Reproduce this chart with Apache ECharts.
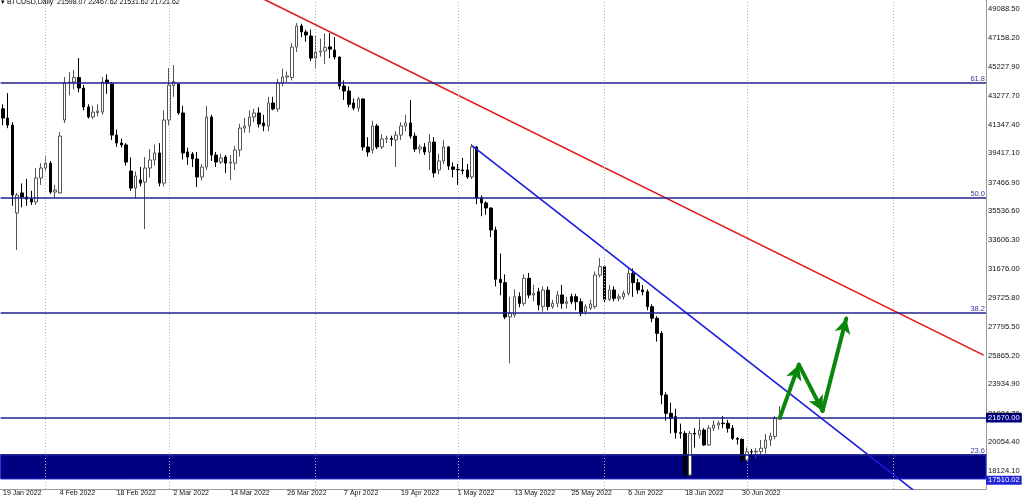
<!DOCTYPE html>
<html><head><meta charset="utf-8">
<script src="https://cdn.jsdelivr.net/npm/echarts@6/dist/echarts.min.js"></script>
<style>html,body{margin:0;padding:0;background:#fff}#c{width:1024px;height:501px}</style>
</head><body><div id="c"></div>
<script>
// ---------- data ----------
const symbolName = 'BTCUSD';
const timeframe = 'Daily';
const firstDate = '2022-01-19';
const missingDates = ['2022-01-22','2022-01-23','2022-01-29','2022-01-30','2022-02-05','2022-02-06'];
const futureBars = 43;
// [open, high, low, close]
const ohlc = [
[42400,42700,41300,41780],[41780,43450,41100,41310],[41310,41500,35900,36620],[35420,36760,32940,36620],
[36760,37400,35800,36490],[36490,37700,35900,36350],[36350,36900,35950,36150],[36150,38430,35950,37760],
[37760,38760,37300,38430],[38430,39200,38200,38760],[38760,38900,36700,36820],[36820,37300,36450,36950],
[36760,40850,36700,40575],[41650,44530,41450,44130],[44130,44870,43300,44200],[44200,45000,43700,44500],
[44500,45800,43500,43790],[43790,44000,42300,42520],[42520,42700,41750,41850],[41850,42600,41700,42180],
[42150,42700,41900,42250],[42180,44530,42000,44200],[44330,44700,43400,44100],[44060,44200,40300,40640],
[40640,41000,39850,40110],[40110,40400,39800,39980],[39980,40100,38600,38830],[38230,39140,36900,37090],
[37090,38200,36420,37900],[37630,38500,37200,37420],[37490,39170,34340,38430],[38430,39700,37800,38970],
[38970,40000,38600,39440],[39440,40100,37200,37420],[37420,42300,37200,41650],[41650,45130,41300,43990],
[43950,45330,43200,44230],[44060,44100,42000,42120],[42120,42600,39000,39440],[39510,39800,38650,39170],
[39370,39500,38500,39040],[39040,39500,37160,37830],[37830,38700,37600,38500],[38500,42600,38300,41850],
[41850,42000,38900,39300],[39300,39500,38500,38830],[38830,39400,38700,39100],[39170,39300,38100,38760],
[38760,39300,37630,38830],[38760,39900,38300,39640],[39640,41400,39200,41110],[41110,41800,40800,41250],
[41250,42300,40800,41850],[41850,42400,41500,42120],[42120,42500,41150,41380],[41450,42000,40900,41250],
[41250,43200,40900,42790],[42790,43200,42300,42390],[42390,44400,42200,44130],[44130,45100,43900,44530],
[44530,44900,44200,44600],[44500,46800,44300,46540],[46540,48150,46200,47950],[47950,48100,47200,47550],
[47550,47700,46900,47350],[47280,47700,45600,45800],[45800,47300,45150,46200],[46200,47100,45900,46270],
[46270,47450,45400,46500],[46550,47480,45800,46400],[46340,47200,45700,45870],[45870,45900,43700,43930],
[43930,44300,43000,43590],[43590,43900,42500,42700],[42790,43100,42300,42450],[42450,43200,42200,43060],
[43060,43100,39600,39840],[39840,40500,39200,39500],[39640,41600,39400,41250],[41250,41400,39700,39840],
[39840,40700,39700,40380],[40380,40600,40100,40420],[40420,40600,39900,40350],[40310,40900,38500,40640],
[40640,41500,40300,41250],[41250,42000,40900,41450],[41450,42990,40400,40570],[40570,40800,39500,39700],
[39700,40000,39400,39840],[39840,40100,39300,39500],[39500,40700,38300,40170],[40170,40500,37800,38100],
[38300,39400,38000,38900],[38900,40300,38700,39840],[39840,39900,38300,38570],[38500,38800,37800,38340],
[38340,38700,37300,38300],[38300,39100,38000,38250],[38300,38700,37700,37830],[37830,40040,37700,39840],
[39840,39900,36000,36420],[36420,36600,35200,36090],[36090,36200,35300,35750],[35750,35800,33800,34280],
[34280,34500,30500,30970],[30970,32700,29900,30750],[30750,31300,28300,28450],[28450,29800,25340,28700],
[28580,30300,28400,29810],[29810,30100,29100,29360],[29360,31300,29200,31040],[31040,31400,29700,29920],
[29920,30600,29500,30030],[30140,30400,28900,29250],[29140,30500,28800,30250],[30250,30500,28900,29140],
[29140,29600,29000,29360],[29360,30200,29100,29920],[29920,30600,29000,29360],[29360,29800,29000,29470],
[29810,30000,29300,29470],[29810,30000,28900,29470],[29470,29700,28500,28690],[28800,29300,28600,29140],
[29030,29600,28900,29320],[29140,31500,29000,31260],[31260,32400,31100,31820],[31820,31900,29400,29630],
[29630,30600,29500,30260],[30260,30500,29500,29700],[29700,30000,29500,29800],[29800,30200,29600,30030],
[30030,31800,29900,31370],[31370,31700,29800,30750],[30750,31000,30000,30260],[30260,30600,29900,30140],
[30140,30300,28900,29140],[29140,29300,28100,28360],[28360,28500,26800,27350],[27350,27500,22600,23220],
[23220,23400,21500,21990],[21990,22700,20650,21660],[21770,22300,20300,20690],[20690,21300,20300,20650],
[20650,20800,17750,17860],[17860,20800,17750,20650],[20650,21000,19700,20600],[20540,21600,20300,20870],
[20870,21000,19800,19870],[19870,21200,19800,21000],[21000,21500,20800,21200],[21200,21500,20900,21330],
[21330,21800,21000,21300],[21320,21550,20700,20990],[20990,21200,20200,20310],[20310,20400,19900,20250],
[20250,20300,18700,18860],[18860,19700,18800,19420],[19420,19600,19100,19400],[19400,19650,19000,19450],
[19420,20200,19200,19650],[19650,20600,19300,20200],[20200,20700,19800,20470],[20440,21800,20250,21650],
[21598.07,22467.62,21531.62,21721.62]
];
const yMin = 16919, yMax = 49692;
const yTicks = [49088.50,47158.20,45227.90,43277.70,41347.40,39417.10,37466.90,35536.60,33606.30,
                31676.00,29725.80,27795.50,25865.20,23934.90,21984.70,20054.40,18124.10];
const labelEvery = 12;
const monthStarts = ['1 Feb 2022','1 Mar 2022','1 Apr 2022','1 May 2022','1 Jun 2022','1 Jul 2022','1 Aug 2022'];
const fibNames = ['61.8','50.0','38.2','23.6'];
const fibValues = [44113, 36425, 28737, 19225];
const supportLevel = 21670.00;
const bandHigh = 19225, bandLow = 17590;
const bandPriceLabel = 17510.02;
const redTrend = [['16 Mar 2022', 50540], ['20 Aug 2022', 25890]];
const blueTrend = [['4 May 2022', 39940], ['20 Aug 2022', 13167]];
const arrowPath = [['8 Jul 2022', 21720], ['12 Jul 2022', 25250], ['17 Jul 2022', 22150], ['22 Jul 2022', 28350]];

// ---------- build ----------
const MONTHS = ['Jan','Feb','Mar','Apr','May','Jun','Jul','Aug','Sep','Oct','Nov','Dec'];
const fmt = d => d.getUTCDate() + ' ' + MONTHS[d.getUTCMonth()] + ' ' + d.getUTCFullYear();
const total = ohlc.length + futureBars;
const dates = [];
{
  const d = new Date(firstDate + 'T00:00:00Z');
  while (dates.length < total) {
    const iso = d.toISOString().slice(0, 10);
    if (!missingDates.includes(iso)) dates.push(fmt(d));
    d.setUTCDate(d.getUTCDate() + 1);
  }
}
const idx = s => dates.indexOf(s);
const nData = ohlc.length;
const last = ohlc[nData - 1];
const candleData = ohlc.map(([o, h, l, c]) => [o, c, l, h]);

const NAVY = '#22228c';
const FONT = 'Liberation Sans';

const chart = echarts.init(document.getElementById('c'), null, {renderer: 'canvas'});
chart.setOption({
  animation: false,
  backgroundColor: '#ffffff',
  title: {
    text: '\u25BE ' + symbolName + ',' + timeframe + '  ' + last.map(v => v.toFixed(2)).join(' '),
    left: 1, top: -1, padding: 0,
    textStyle: {fontSize: 7, fontWeight: 'normal', color: '#000', fontFamily: FONT}
  },
  grid: {left: -4, right: 38, top: 0, bottom: 12, containLabel: false},
  xAxis: [{
    type: 'category', data: dates, boundaryGap: true,
    axisLine: {onZero: false, lineStyle: {color: '#9a9a9a', width: 1}},
    axisTick: {show: true, length: 2, interval: (i) => i % labelEvery === 0 && i < nData, lineStyle: {color: '#9a9a9a'}, alignWithLabel: true},
    axisLabel: {
      interval: (i) => i % labelEvery === 0 && i < nData,
      align: 'left', margin: 1, fontSize: 7, color: '#111', fontFamily: FONT
    },
    splitLine: {show: false}
  }, {
    type: 'value', min: -0.5, max: total - 0.5, show: false
  }],
  yAxis: {
    type: 'value', position: 'right', min: yMin, max: yMax, scale: true,
    axisLine: {show: true, onZero: false, lineStyle: {color: '#9a9a9a', width: 1}},
    axisTick: {show: false},
    splitLine: {show: false},
    axisLabel: {
      customValues: yTicks, formatter: v => Number(v).toFixed(2),
      margin: 2, fontSize: 7.6, color: '#111', fontFamily: FONT, align: 'left'
    }
  },
  series: [
    { // background: grid lines + band
      type: 'line', xAxisIndex: 1, data: [], z: 1, silent: true,
      markLine: {
        silent: true, symbol: ['none', 'none'], animation: false,
        label: {show: false},
        lineStyle: {type: [1, 2], color: '#b8b8b8', width: 1},
        data: monthStarts.map(m => ({xAxis: idx(m)}))
      },
      markArea: {
        silent: true,
        itemStyle: {color: '#000080', borderColor: '#2a2ad6', borderWidth: 1},
        data: [[{yAxis: bandHigh}, {yAxis: bandLow}]]
      }
    },
    {
      type: 'candlestick', name: symbolName, xAxisIndex: 0, z: 2,
      data: candleData, barWidth: 3,
      itemStyle: {color: '#ffffff', color0: '#000000', borderColor: '#555555', borderColor0: '#000000', borderWidth: 1}
    },
    { // red trend line
      type: 'line', xAxisIndex: 1, z: 3, clip: true, symbol: 'none', silent: true,
      data: redTrend.map(([d, v]) => [idx(d), v]),
      lineStyle: {color: '#e01818', width: 1.6}
    },
    { // blue trend line
      type: 'line', xAxisIndex: 1, z: 3, clip: true, symbol: 'none', silent: true,
      data: blueTrend.map(([d, v]) => [idx(d), v]),
      lineStyle: {color: '#1a1ae0', width: 1.6}
    },
    { // horizontal levels & price labels
      type: 'line', xAxisIndex: 1, data: [], z: 4, silent: true,
      markLine: {
        silent: true, symbol: ['none', 'none'], animation: false,
        lineStyle: {color: NAVY, width: 1.5, type: 'solid'},
        label: {show: false},
        data: [
          ...fibValues.map((v, i) => ({
            yAxis: v,
            label: {show: true, position: 'insideEndTop', formatter: fibNames[i], distance: [1, 0],
                     color: '#3a3aa0', fontSize: 7.5, fontFamily: FONT}
          })),
          {yAxis: last[3], lineStyle: {color: 'rgba(0,0,0,0)'},
           label: {show: true, position: 'end', distance: 0, formatter: last[3].toFixed(2),
                   color: '#fff', backgroundColor: '#000', padding: [1, 2, 0, 2], fontSize: 7.6, fontFamily: FONT}},
          {yAxis: supportLevel,
           label: {show: true, position: 'end', distance: 0, formatter: supportLevel.toFixed(2),
                   color: '#fff', backgroundColor: '#000080', padding: [1, 2, 0, 2], fontSize: 7.6, fontFamily: FONT}},
          {yAxis: bandPriceLabel, lineStyle: {color: 'rgba(0,0,0,0)'},
           label: {show: true, position: 'end', distance: 0, formatter: bandPriceLabel.toFixed(2),
                   color: '#fff', backgroundColor: '#2323d8', padding: [1, 2, 0, 2], fontSize: 7.6, fontFamily: FONT}}
        ]
      }
    },
    { // green projection arrows
      type: 'line', xAxisIndex: 1, data: [], z: 5, silent: true,
      markLine: {
        silent: true, animation: false,
        symbol: ['none', 'arrow'], symbolSize: [12, 15],
        label: {show: false},
        lineStyle: {color: '#0a870a', width: 4, type: 'solid', cap: 'round'},
        data: arrowPath.slice(1).map((p, i) => [
          {coord: [idx(arrowPath[i][0]), arrowPath[i][1]]},
          {coord: [idx(p[0]), p[1]]}
        ])
      }
    }
  ]
});
</script>
</body></html>
